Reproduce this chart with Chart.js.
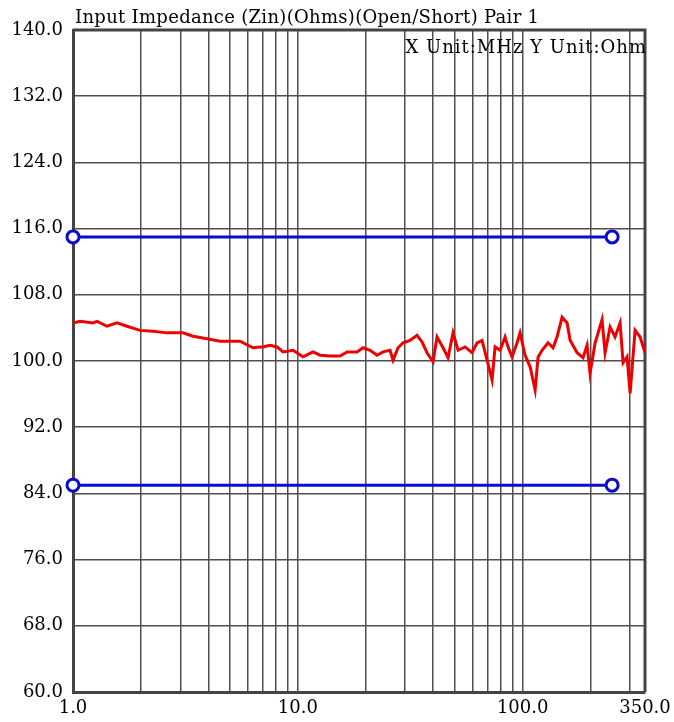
<!DOCTYPE html>
<html>
<head>
<meta charset="utf-8">
<script src="https://cdn.jsdelivr.net/npm/chart.js@4"></script>
<style>
html,body{margin:0;padding:0;background:#fff;}
#wrap{position:relative;width:674px;height:722px;background:#fff;}
#chart{position:absolute;left:0;top:0;}
.txt{position:absolute;font-family:'DejaVu Serif',serif;font-size:18px;color:#000;white-space:nowrap;line-height:21px;}
#title{left:75px;top:6px;letter-spacing:0.3px;}
#units{right:27px;top:36px;letter-spacing:1px;}
</style>
</head>
<body>
<div id="wrap">
<canvas id="chart" width="674" height="722"></canvas>
<div id="title" class="txt"></div>
<div id="units" class="txt"></div>
</div>
<script>
// ---- text ----
const chartTitle = 'Input Impedance (Zin)(Ohms)(Open/Short) Pair 1';
const unitText = 'X Unit:MHz Y Unit:Ohm';

// ---- axes ----
const xMin = 1, xMax = 350;
const xTickValues = [1, 10, 100, 350];
const xTickLabels = ['1.0', '10.0', '100.0', '350.0'];
const xGridValues = [1, 2, 3, 4, 5, 6, 7, 8, 9, 10, 20, 30, 40, 50, 60, 70, 80, 90, 100, 200, 300, 350];
const yMin = 60, yMax = 140, yStep = 8;

// ---- limit lines (Ohm) ----
const limitFreqs = [1, 250];
const upperLimit = [115, 115];
const lowerLimit = [85, 85];

// ---- measured input impedance (MHz, Ohm) ----
const freqs = [1.0, 1.074, 1.227, 1.279, 1.416, 1.569, 1.739, 1.986, 2.27, 2.619,
  3.085, 3.419, 3.947, 4.508, 5.533, 6.32, 6.789, 7.002, 7.521, 8.08,
  8.594, 9.52, 10.55, 11.68, 12.56, 13.91, 15.41, 16.56, 18.34, 19.5,
  20.96, 22.51, 23.93, 25.71, 26.51, 27.91, 29.38, 31.56, 33.9, 35.68,
  37.55, 39.94, 41.61, 44.25, 46.57, 49.02, 51.6, 55.43, 59.56, 62.69,
  65.98, 69.45, 73.1, 75.38, 79.35, 83.51, 86.1, 89.7, 94.43, 97.36,
  102.5, 107.9, 113.6, 117.1, 122.0, 129.7, 136.5, 142.2, 149.7, 157.6,
  162.5, 174.6, 185.6, 193.4, 199.4, 210.0, 225.5, 232.5, 244.7, 257.6,
  271.2, 279.6, 291.3, 300.5, 316.2, 332.9, 350];
const zin = [104.6, 104.8, 104.6, 104.8, 104.2, 104.6, 104.2, 103.7, 103.6, 103.4,
  103.4, 103.0, 102.7, 102.4, 102.4, 101.6, 101.7, 101.7, 101.9, 101.7,
  101.1, 101.3, 100.5, 101.1, 100.7, 100.6, 100.6, 101.1, 101.1, 101.6,
  101.3, 100.7, 101.1, 101.3, 100.1, 101.6, 102.2, 102.5, 103.1, 102.3,
  101.0, 99.9, 102.9, 101.6, 100.4, 103.4, 101.3, 101.7, 101.0, 102.2,
  102.5, 100.1, 97.7, 101.7, 101.3, 102.9, 101.7, 100.5, 102.2, 103.4,
  100.7, 99.3, 96.5, 100.5, 101.3, 102.2, 101.6, 102.9, 105.3, 104.6,
  102.5, 101.0, 100.4, 101.9, 98.5, 102.2, 105.0, 101.0, 104.1, 102.9,
  104.6, 99.8, 100.5, 96.1, 103.7, 102.9, 101.0];

document.getElementById('title').textContent = chartTitle;
document.getElementById('units').textContent = unitText;

const toXY = (xs, ys) => xs.map((x, i) => ({x: x, y: ys[i]}));

const frameColor = '#444444';
const gridColor = '#4f4f4f';
const blue = '#0a0ad0';
const red = '#ee0000';

const framePlugin = {
  id: 'frame',
  beforeDatasetsDraw(chart) {
    const {ctx, chartArea: a} = chart;
    ctx.save();
    ctx.strokeStyle = frameColor;
    ctx.lineWidth = 3;
    ctx.beginPath();
    ctx.moveTo(a.left, a.top);
    ctx.lineTo(a.right, a.top);
    ctx.lineTo(a.right, a.bottom);
    ctx.stroke();
    ctx.restore();
  }
};

new Chart(document.getElementById('chart'), {
  type: 'line',
  data: {
    datasets: [
      {
        label: 'Upper limit',
        data: toXY(limitFreqs, upperLimit),
        borderColor: blue,
        borderWidth: 3,
        pointRadius: 6,
        pointBorderWidth: 3,
        pointBackgroundColor: '#ffffff',
        pointBorderColor: blue,
        clip: false,
        order: 2
      },
      {
        label: 'Lower limit',
        data: toXY(limitFreqs, lowerLimit),
        borderColor: blue,
        borderWidth: 3,
        pointRadius: 6,
        pointBorderWidth: 3,
        pointBackgroundColor: '#ffffff',
        pointBorderColor: blue,
        clip: false,
        order: 2
      },
      {
        label: 'Zin',
        data: toXY(freqs, zin),
        borderColor: red,
        borderWidth: 3,
        pointRadius: 0,
        tension: 0,
        order: 1
      }
    ]
  },
  options: {
    responsive: false,
    animation: false,
    events: [],
    layout: {padding: {top: 30, right: 29, bottom: 0, left: 0}},
    plugins: {
      legend: {display: false},
      title: {display: false},
      tooltip: {enabled: false}
    },
    scales: {
      x: {
        type: 'logarithmic',
        min: xMin,
        max: xMax,
        afterBuildTicks(scale) {
          scale.ticks = xGridValues.map(v => ({value: v}));
        },
        afterFit(scale) {
          scale.height = 30;
          scale.paddingRight = 0;
          scale.paddingLeft = 0;
        },
        ticks: {
          autoSkip: false,
          maxRotation: 0,
          minRotation: 0,
          padding: 6,
          color: '#000',
          font: {family: 'DejaVu Serif', size: 18},
          callback(value) {
            const i = xTickValues.indexOf(value);
            return i >= 0 ? xTickLabels[i] : '';
          }
        },
        grid: {color: gridColor, lineWidth: 1.5, drawTicks: false},
        border: {color: frameColor, width: 3}
      },
      y: {
        type: 'linear',
        min: yMin,
        max: yMax,
        afterFit(scale) { scale.width = 73; },
        ticks: {
          stepSize: yStep,
          padding: 10,
          color: '#000',
          font: {family: 'DejaVu Serif', size: 18},
          callback(value) { return Number(value).toFixed(1); }
        },
        grid: {color: gridColor, lineWidth: 1.5, drawTicks: false},
        border: {color: frameColor, width: 3}
      }
    }
  },
  plugins: [framePlugin]
});
</script>
</body>
</html>
